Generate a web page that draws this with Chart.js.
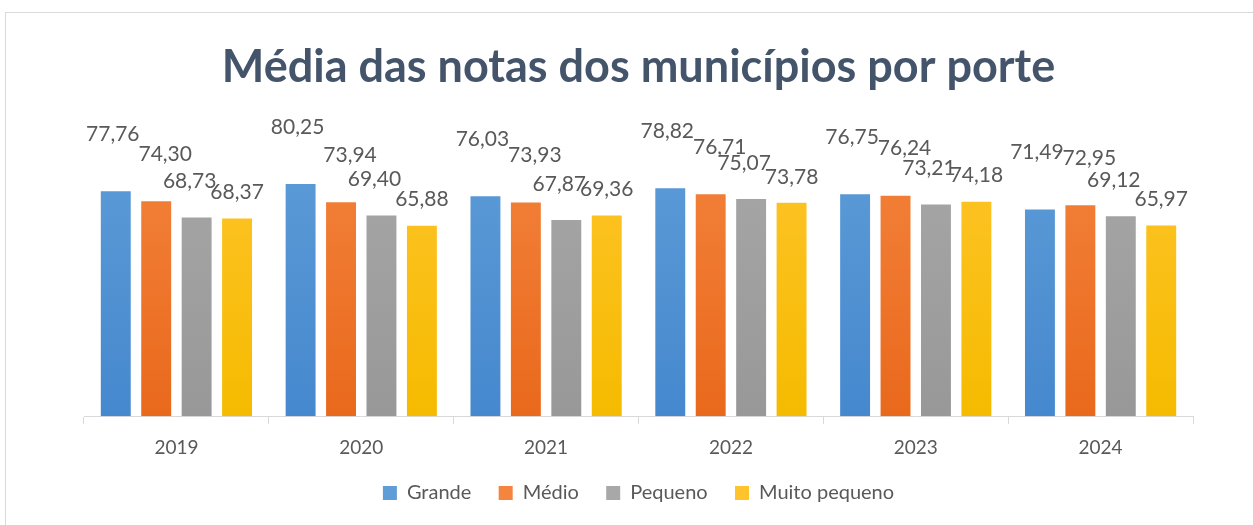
<!DOCTYPE html>
<html>
<head>
<meta charset="utf-8">
<script src="https://cdn.jsdelivr.net/npm/chart.js@4/dist/chart.umd.min.js"></script>
<style>
  html, body { margin: 0; padding: 0; background: #fff; }
  #box {
    position: absolute; left: 5px; top: 12px;
    width: 1260px; height: 520px;
    border: 1px solid #d9d9d9; box-sizing: border-box;
    background: #fff;
  }
  #chart { position: absolute; left: 0; top: 0; }
</style>
</head>
<body>
<div id="box"><canvas id="chart" width="1248" height="512"></canvas></div>
<script>
// dados
var anos = ['2019', '2020', '2021', '2022', '2023', '2024'];
var grande = [77.76, 80.25, 76.03, 78.82, 76.75, 71.49];
var medio = [74.30, 73.94, 73.93, 76.71, 76.24, 72.95];
var pequeno = [68.73, 69.40, 67.87, 75.07, 73.21, 69.12];
var muitoPequeno = [68.37, 65.88, 69.36, 73.78, 74.18, 65.97];

// cores (topo, base) no estilo do Excel
var cores = [
    ['#5e9dd8', '#4688ce'],
    ['#f4843e', '#e9691c'],
    ['#a8a8a8', '#989898'],
    ['#ffc42c', '#f5bb00']
];
// deslocamento dos rótulos em relação ao topo da barra
var rotuloDy = [57, 47, 36, 26];
var rotuloDx = [-3, 9, -7, 0];

function gradiente(i) {
    return function (ctx) {
        var area = ctx.chart.chartArea;
        if (!area) return cores[i][0];
        var g = ctx.chart.ctx.createLinearGradient(0, area.top, 0, area.bottom);
        g.addColorStop(0, cores[i][0]);
        g.addColorStop(1, cores[i][1]);
        return g;
    };
}

var rotulos = {
    id: 'rotulos',
    afterDatasetsDraw: function (chart) {
        var ctx = chart.ctx;
        ctx.save();
        ctx.font = '21px Lato';
        ctx.fillStyle = '#595959';
        ctx.textAlign = 'center';
        ctx.textBaseline = 'middle';
        chart.data.datasets.forEach(function (ds, i) {
            var meta = chart.getDatasetMeta(i);
            meta.data.forEach(function (bar, j) {
                var txt = ds.data[j].toFixed(2).replace('.', ',');
                ctx.fillText(txt, bar.x + rotuloDx[i], bar.y - rotuloDy[i]);
            });
        });
        ctx.restore();
    }
};

var nomes = ['Grande', 'Médio', 'Pequeno', 'Muito pequeno'];
var series = [grande, medio, pequeno, muitoPequeno];

var chart = new Chart(document.getElementById('chart').getContext('2d'), {
    type: 'bar',
    data: {
        labels: anos,
        datasets: series.map(function (s, i) {
            return {
                label: nomes[i],
                data: s,
                backgroundColor: gradiente(i),
                borderWidth: 0,
                barPercentage: 0.74,
                categoryPercentage: 0.875
            };
        })
    },
    options: {
        responsive: false,
        animation: false,
        layout: { padding: { left: 78, right: 61, bottom: 12 } },
        plugins: {
            title: {
                display: true,
                text: 'Média das notas dos municípios por porte',
                color: '#44546A',
                font: { family: 'Lato', size: 45, weight: 'bold' },
                padding: { top: 27, bottom: 33 }
            },
            legend: {
                position: 'bottom',
                labels: {
                    color: '#595959',
                    font: { family: 'Lato', size: 20 },
                    boxWidth: 14,
                    boxHeight: 14,
                    padding: 12,
                    generateLabels: function (chart) {
                        return nomes.map(function (n, i) {
                            var t = i < nomes.length - 1 ? n + '\u00a0\u00a0\u00a0' : n;
                            return {
                                text: t, fillStyle: cores[i][0], strokeStyle: cores[i][0],
                                lineWidth: 0, datasetIndex: i, fontColor: '#595959'
                            };
                        });
                    }
                }
            },
            tooltip: { enabled: false }
        },
        scales: {
            y: { display: false, min: 0, max: 100 },
            x: {
                border: { color: '#d9d9d9', width: 1 },
                grid: { display: true, drawOnChartArea: false, color: '#d9d9d9', tickLength: 8, offset: true },
                ticks: { color: '#595959', font: { family: 'Lato', size: 19 }, padding: 12 }
            }
        }
    },
    plugins: [rotulos]
});
</script>
</body>
</html>
